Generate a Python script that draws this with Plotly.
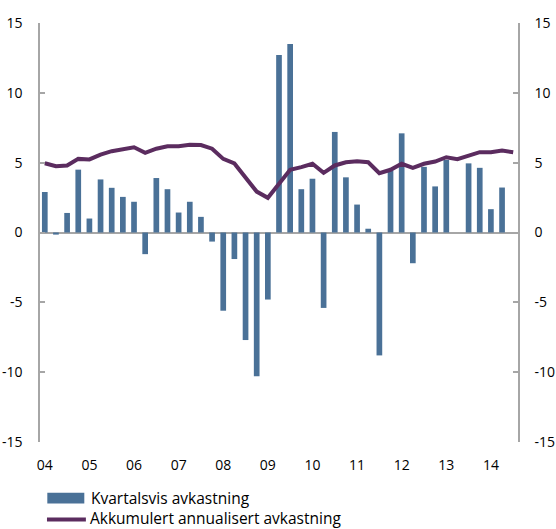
import plotly.graph_objects as go

# Quarters 2004Q1 .. 2014Q3
quarters = [f"{y}Q{q}" for y in range(2004, 2015) for q in range(1, 5)][:43]
year_labels = ["04", "05", "06", "07", "08", "09", "10", "11", "12", "13", "14"]
y_tick_values = [-15, -10, -5, 0, 5, 10, 15]
y_tick_labels = ["-15", "-10", "-5", "0", "5", "10", "15"]

kvartalsvis = [2.9, -0.15, 1.4, 4.5, 1.0, 3.8, 3.2, 2.55, 2.2, -1.55,
               3.9, 3.1, 1.43, 2.2, 1.12, -0.65, -5.6, -1.9, -7.7, -10.3,
               -4.8, 12.7, 13.5, 3.1, 3.85, -5.4, 7.2, 3.95, 2.0, 0.27,
               -8.8, 4.45, 7.1, -2.2, 4.7, 3.3, 5.2, 0.0, 4.95, 4.63,
               1.67, 3.22, 0.0]

akkumulert = [4.96, 4.75, 4.8, 5.27, 5.23, 5.58, 5.82, 5.99, 6.1, 5.7,
              6.0, 6.18, 6.18, 6.28, 6.26, 6.0, 5.27, 4.94, 3.96, 2.93,
              2.48, 3.5, 4.49, 4.68, 4.92, 4.27, 4.8, 5.03, 5.1, 5.03,
              4.25, 4.49, 4.92, 4.63, 4.92, 5.08, 5.39, 5.25, 5.51, 5.75,
              5.75, 5.87, 5.75]

names = ["Kvartalsvis avkastning", "Akkumulert annualisert avkastning"]

BAR_COLOR = "#4A7197"
LINE_COLOR = "#5B2C5F"
AXIS_COLOR = "#A6A6A6"
FONT = "Open Sans"
FS = 14
LEG_FS = 15.5

x = list(range(len(quarters)))
tickvals = [i for i, q in enumerate(quarters) if q.endswith("Q1")]

fig = go.Figure()
fig.add_trace(go.Bar(x=x, y=kvartalsvis, name=names[0], marker_color=BAR_COLOR,
                     marker_line_width=0, showlegend=False))
fig.add_trace(go.Scatter(x=x, y=akkumulert, name=names[1], mode="lines",
                         line=dict(color=LINE_COLOR, width=4), showlegend=False))

yaxis_common = dict(range=[-15, 15], tickvals=y_tick_values, ticktext=y_tick_labels,
                    showgrid=False, showline=True,
                    linecolor=AXIS_COLOR, linewidth=1.5, ticks="inside", ticklen=5,
                    tickcolor=AXIS_COLOR, tickwidth=1.5, automargin=False,
                    tickfont=dict(family=FONT, size=FS, color="#000000"))

fig.update_layout(
    width=556, height=529,
    margin=dict(l=40, r=38, t=23, b=87),
    plot_bgcolor="white", paper_bgcolor="white",
    bargap=0.49,
    font=dict(family=FONT, size=FS, color="#000000"),
    xaxis=dict(range=[-0.43, 42.43], tickvals=tickvals, ticktext=year_labels,
               showgrid=False, showline=False, zeroline=False, ticks="",
               ticklabelstandoff=13, automargin=False,
               tickfont=dict(family=FONT, size=FS, color="#000000")),
    yaxis=dict(**yaxis_common, zeroline=True, zerolinecolor=AXIS_COLOR,
               zerolinewidth=1.5, ticklabelstandoff=13),
    yaxis2=dict(**yaxis_common, overlaying="y", side="right", matches="y",
                zeroline=False, ticklabelstandoff=12),
)
# invisible trace to activate right axis
fig.add_trace(go.Scatter(x=[None], y=[None], yaxis="y2", showlegend=False,
                         hoverinfo="skip"))

# custom legend
fig.add_shape(type="rect", xref="paper", yref="paper",
              x0=0.0153, x1=0.0927, y0=-0.1465, y1=-0.1212,
              fillcolor=BAR_COLOR, line_width=0)
fig.add_shape(type="line", xref="paper", yref="paper",
              x0=0.0146, x1=0.096, y0=-0.1850, y1=-0.1850,
              line=dict(color=LINE_COLOR, width=4))
fig.add_annotation(xref="paper", yref="paper", x=0.1025, y=-0.1340,
                   xanchor="left", yanchor="middle", showarrow=False,
                   text=names[0], font=dict(family=FONT, size=LEG_FS, color="#000000"))
fig.add_annotation(xref="paper", yref="paper", x=0.1025, y=-0.1805,
                   xanchor="left", yanchor="middle", showarrow=False, borderpad=0,
                   text=names[1], font=dict(family=FONT, size=LEG_FS, color="#000000"))

fig.write_html("out.html",
               config={"displayModeBar": False},
               post_script="document.body.style.margin='0';"
                           "document.body.style.overflow='hidden';")
